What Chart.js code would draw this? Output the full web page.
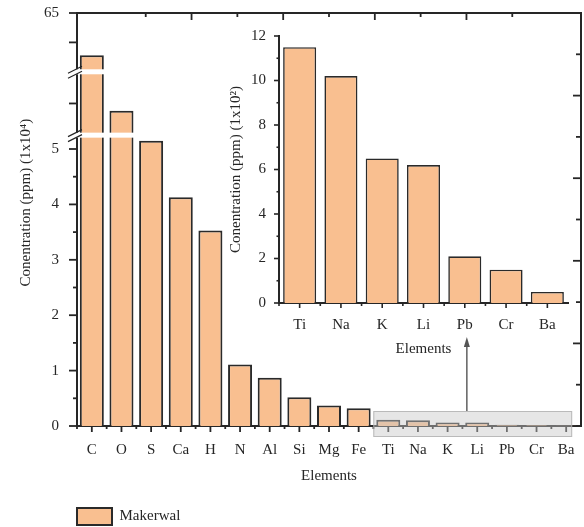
<!DOCTYPE html>
<html>
<head>
<meta charset="utf-8">
<script src="https://cdn.jsdelivr.net/npm/chart.js@4"></script>
<style>
  html, body { margin: 0; padding: 0; background: #fff; }
  #wrap { position: relative; width: 584px; height: 527px; }
  #mainChart { position: absolute; left: 0; top: 0; }
  #insetChart { position: absolute; left: 200px; top: 20px; }
</style>
</head>
<body>
<div id="wrap">
  <canvas id="mainChart" width="584" height="527"></canvas>
  <canvas id="insetChart" width="380" height="345"></canvas>
</div>
<script>
// Element concentrations, Makerwal sample
const majorElements = ['C', 'O', 'S', 'Ca', 'H', 'N', 'Al', 'Si', 'Mg', 'Fe'];
const majorValues = [57.8, 13.85, 5.15, 4.13, 3.53, 1.11, 0.87, 0.52, 0.37, 0.32]; // x10^4 ppm
const traceElements = ['Ti', 'Na', 'K', 'Li', 'Pb', 'Cr', 'Ba'];
const traceValues = [11.5, 10.2, 6.5, 6.2, 2.1, 1.5, 0.5]; // x10^2 ppm

// main chart shows everything in x10^4 ppm
const allElements = majorElements.concat(traceElements);
const mainValues = majorValues.concat(traceValues.map(v => v / 100));

// broken y axis: kept value ranges and tick marks
const ySegments = [
  { from: 0, to: 5.25, weight: 5.25 },
  { from: 10, to: 20, weight: 1.144 },
  { from: 55, to: 65, weight: 1.061 }
];
const mainTickValues = [0, 0.5, 1, 1.5, 2, 2.5, 3, 3.5, 4, 4.5, 5, 15, 60, 65];
const mainTickLabels = [0, 1, 2, 3, 4, 5, 65];

const FONT = { family: "'Liberation Serif', 'Times New Roman', serif", size: 15 };
const INK = '#262626';
const BAR_FILL = '#F9BF90';
const BAR_EDGE = '#2a2a2a';

// linear scale with gaps between the value ranges in ySegments
class BrokenLinearScale extends Chart.LinearScale {
  buildTicks() {
    this.start = this.min;
    this.end = this.max;
    return mainTickValues.map(value => ({ value }));
  }
  _fraction(value) {
    const total = ySegments.reduce((s, g) => s + g.weight, 0);
    let acc = 0;
    for (let i = 0; i < ySegments.length; i++) {
      const g = ySegments[i];
      if (value <= g.to || i === ySegments.length - 1) {
        const t = Math.min(Math.max((value - g.from) / (g.to - g.from), 0), 1);
        return (acc + t * g.weight) / total;
      }
      acc += g.weight;
    }
    return 1;
  }
  getPixelForValue(value) {
    return this.getPixelForDecimal(this._fraction(value));
  }
  getValueForPixel(pixel) {
    const total = ySegments.reduce((s, g) => s + g.weight, 0);
    let d = this.getDecimalForPixel(pixel) * total;
    for (const g of ySegments) {
      if (d <= g.weight) return g.from + (d / g.weight) * (g.to - g.from);
      d -= g.weight;
    }
    return ySegments[ySegments.length - 1].to;
  }
}
BrokenLinearScale.id = 'broken';
BrokenLinearScale.defaults = Chart.LinearScale.defaults;
Chart.register(BrokenLinearScale);

// fixed axis sizes, and no extra room for labels hanging past the ends
function fixSize(width, height) {
  return s => {
    if (width !== null) s.width = width;
    if (height !== null) s.height = height;
    s.paddingTop = s.paddingBottom = s.paddingLeft = s.paddingRight = 0;
  };
}

function line(ctx, x1, y1, x2, y2) {
  ctx.beginPath();
  ctx.moveTo(x1, y1);
  ctx.lineTo(x2, y2);
  ctx.stroke();
}

// tick marks, axis breaks, highlight box and arrow for the main chart
const mainFrame = {
  id: 'mainFrame',
  afterLayout(chart) {
    const lg = chart.legend;
    const w = lg.width, h = lg.height;
    lg.left = 67; lg.right = 67 + w;
    lg.top = 498; lg.bottom = 498 + h;
  },
  afterDraw(chart) {
    const { ctx, chartArea: a, scales } = chart;
    const x = scales.x, y = scales.y, top = scales.x2, right = scales.y2;
    ctx.save();

    // axis breaks
    const bars = chart.getDatasetMeta(0).data;
    [ySegments[0].to, ySegments[1].to].forEach(v => {
      const py = y.getPixelForValue(v);
      let reach = a.left + 6;
      bars.forEach((b, i) => {
        if (mainValues[i] > v) reach = Math.max(reach, b.x + b.width / 2 + 1);
      });
      ctx.fillStyle = '#fff';
      ctx.fillRect(a.left - 8, py - 2.5, reach - a.left + 8, 5);
      ctx.strokeStyle = INK;
      ctx.lineWidth = 1.2;
      line(ctx, a.left - 9, py - 2.5 + 4, a.left + 5, py - 2.5 - 3);
      line(ctx, a.left - 9, py + 2.5 + 4, a.left + 5, py + 2.5 - 3);
    });

    ctx.strokeStyle = INK;
    ctx.lineWidth = 1.8;
    // left ticks, outward
    mainTickValues.forEach(v => {
      const len = Number.isInteger(v) ? 8 : 4;
      const py = y.getPixelForValue(v);
      line(ctx, a.left - len, py, a.left, py);
    });
    // bottom ticks: long at categories, short between them
    allElements.forEach((_, i) => {
      line(ctx, x.getPixelForValue(i), a.bottom, x.getPixelForValue(i), a.bottom + 6);
      const bx = x.getPixelForValue(i - 0.5);
      line(ctx, bx, a.bottom, bx, a.bottom + 3);
    });
    // top and right ticks, inward
    for (let v = 1; v < 10; v++) {
      const len = v % 2 === 0 ? 7 : 4;
      const px = top.getPixelForValue(v);
      line(ctx, px, a.top, px, a.top + len);
      const py = right.getPixelForValue(v);
      line(ctx, a.right, py, a.right - len - 1, py);
    }

    // highlight over the trace elements
    const bx0 = x.getPixelForValue(majorElements.length) - 15;
    const bx1 = x.getPixelForValue(allElements.length - 1) + 6;
    const by0 = a.bottom - 15, by1 = a.bottom + 11;
    ctx.fillStyle = 'rgba(200, 200, 200, 0.45)';
    ctx.fillRect(bx0, by0, bx1 - bx0, by1 - by0);
    ctx.strokeStyle = 'rgba(175, 175, 175, 0.8)';
    ctx.lineWidth = 1;
    ctx.strokeRect(bx0 + 0.5, by0 + 0.5, bx1 - bx0 - 1, by1 - by0 - 1);

    // arrow up to the inset
    const ax = x.getPixelForValue(12.65);
    const tipY = 337;
    ctx.strokeStyle = '#555';
    ctx.fillStyle = '#555';
    ctx.lineWidth = 1.4;
    line(ctx, ax, by0, ax, tipY + 8);
    ctx.beginPath();
    ctx.moveTo(ax, tipY);
    ctx.lineTo(ax - 3, tipY + 10);
    ctx.lineTo(ax + 3, tipY + 10);
    ctx.closePath();
    ctx.fill();
    ctx.restore();
  }
};

// tick marks for the inset
const insetTicks = {
  id: 'insetTicks',
  afterDraw(chart) {
    const { ctx, chartArea: a, scales } = chart;
    ctx.save();
    ctx.strokeStyle = INK;
    ctx.lineWidth = 1.6;
    scales.y.ticks.forEach(t => {
      const len = t.value % 2 === 0 ? 5 : 2.5;
      const py = scales.y.getPixelForValue(t.value);
      line(ctx, a.left - len, py, a.left, py);
    });
    traceElements.forEach((_, i) => {
      const px = scales.x.getPixelForValue(i);
      line(ctx, px, a.bottom, px, a.bottom + 5);
      const bx = scales.x.getPixelForValue(i - 0.5);
      line(ctx, bx, a.bottom, bx, a.bottom + 3);
    });
    ctx.restore();
  }
};

const mainChart = new Chart(document.getElementById('mainChart'), {
  type: 'bar',
  data: {
    labels: allElements,
    datasets: [{
      label: 'Makerwal',
      data: mainValues,
      backgroundColor: BAR_FILL,
      borderColor: BAR_EDGE,
      borderWidth: 2,
      categoryPercentage: 0.9,
      barPercentage: 0.9,
      xAxisID: 'x',
      yAxisID: 'y'
    }]
  },
  options: {
    responsive: false,
    animation: false,
    layout: { padding: { left: 0, top: 13, right: 3, bottom: 42 } },
    plugins: {
      legend: {
        position: 'chartArea',
        align: 'start',
        labels: { boxWidth: 35, boxHeight: 17, padding: 10, font: FONT, color: INK }
      },
      tooltip: { enabled: false }
    },
    scales: {
      x: {
        type: 'category',
        position: 'bottom',
        grid: { display: false },
        border: { display: true, color: INK, width: 2 },
        ticks: { font: FONT, color: INK, padding: 7, autoSkip: false, maxRotation: 0 },
        title: { display: true, text: 'Elements', font: FONT, color: INK, padding: { top: 0, bottom: 0 } },
        afterFit: fixSize(null, 59)
      },
      y: {
        type: 'broken',
        position: 'left',
        min: 0,
        max: 65,
        grid: { display: false },
        border: { display: true, color: INK, width: 2 },
        ticks: {
          font: FONT, color: INK, padding: 10, autoSkip: false,
          callback: v => mainTickLabels.includes(v) ? String(v) : ''
        },
        title: {
          display: true, text: '         Conentration (ppm) (1x10⁴)', font: FONT, color: INK,
          padding: { top: 17, bottom: 0 }
        },
        afterFit: fixSize(77, null)
      },
      x2: {
        type: 'linear',
        position: 'top',
        min: 0,
        max: 10,
        grid: { display: false },
        border: { display: true, color: INK, width: 2 },
        ticks: { display: false },
        afterFit: fixSize(null, 0)
      },
      y2: {
        type: 'linear',
        position: 'right',
        min: 0,
        max: 10,
        grid: { display: false },
        border: { display: true, color: INK, width: 2 },
        ticks: { display: false },
        afterFit: fixSize(0, null)
      }
    }
  },
  plugins: [mainFrame]
});

const insetChart = new Chart(document.getElementById('insetChart'), {
  type: 'bar',
  data: {
    labels: traceElements,
    datasets: [{
      label: 'Makerwal',
      data: traceValues,
      backgroundColor: BAR_FILL,
      borderColor: BAR_EDGE,
      borderWidth: 1.6,
      categoryPercentage: 1,
      barPercentage: 0.8
    }]
  },
  options: {
    responsive: false,
    animation: false,
    layout: { padding: { left: 0, top: 16, right: 12, bottom: 7 } },
    plugins: { legend: { display: false }, tooltip: { enabled: false } },
    scales: {
      x: {
        grid: { display: false },
        border: { display: true, color: INK, width: 2 },
        ticks: { font: FONT, color: INK, padding: 5, autoSkip: false, maxRotation: 0 },
        title: { display: true, text: 'Elements', font: FONT, color: INK, padding: { top: 0, bottom: 0 } },
        afterFit: fixSize(null, 55)
      },
      y: {
        min: 0,
        max: 12,
        grid: { display: false },
        border: { display: true, color: INK, width: 2 },
        ticks: {
          stepSize: 1, font: FONT, color: INK, padding: 5, autoSkip: false,
          callback: v => v % 2 === 0 ? String(v) : ''
        },
        title: {
          display: true, text: 'Conentration (ppm) (1x10²)', font: FONT, color: INK,
          padding: { top: 27, bottom: 0 }
        },
        afterFit: fixSize(79, null)
      }
    }
  },
  plugins: [insetTicks]
});
</script>
</body>
</html>
